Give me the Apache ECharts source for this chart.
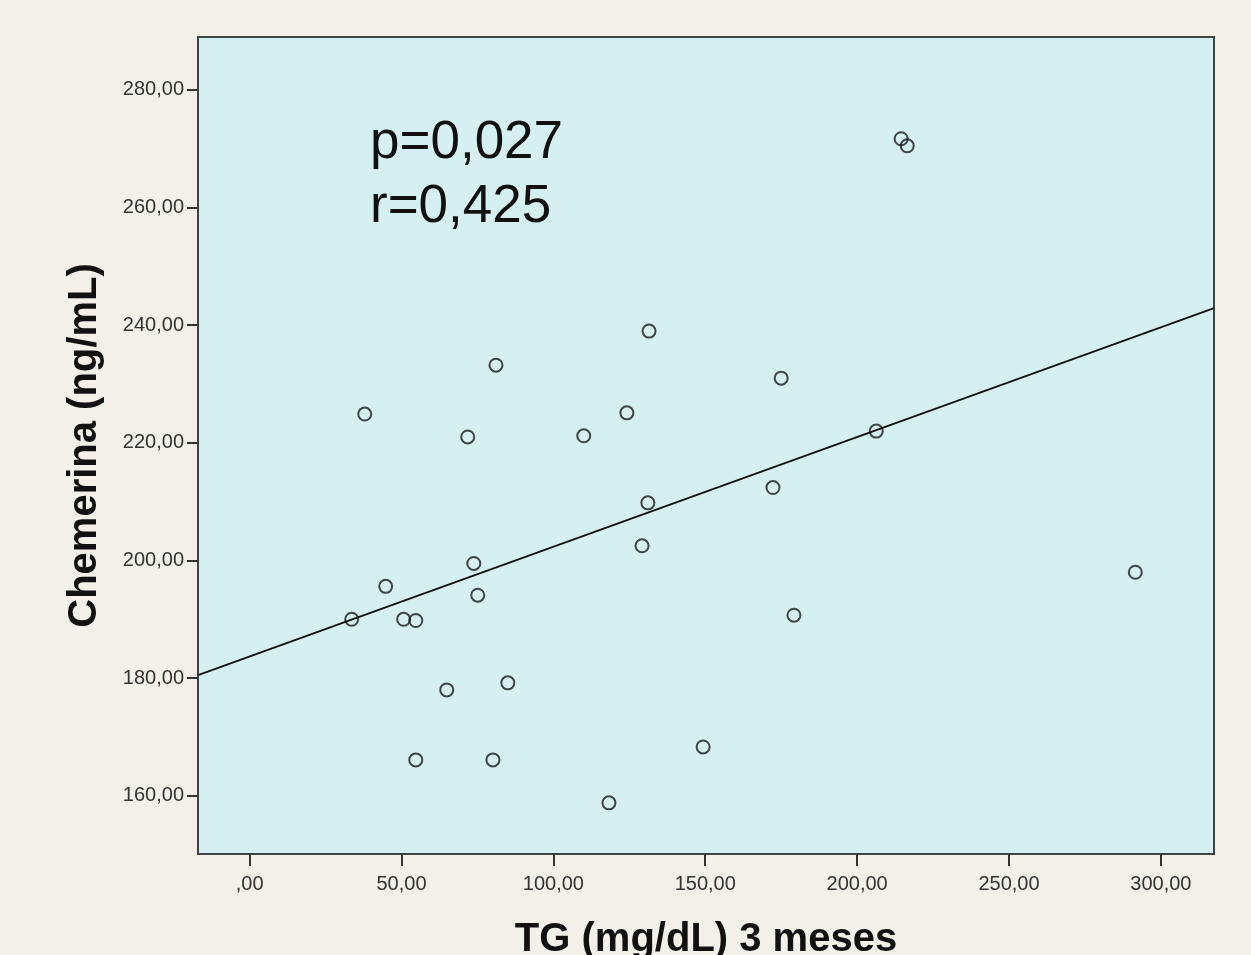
<!DOCTYPE html>
<html>
<head>
<meta charset="utf-8">
<script src="https://cdn.jsdelivr.net/npm/echarts@6/dist/echarts.min.js"></script>
<style>
  html, body { margin: 0; padding: 0; background: #f3f0e9; }
  #chart01 { width: 1251px; height: 955px; }
</style>
</head>
<body>
<div id="chart01"></div>
<script>
// valores
var tgValues = [33.6, 37.9, 44.8, 50.7, 54.7, 54.7, 64.9, 71.8, 73.8, 75.1, 80.1, 81.1, 85.0,
                110.0, 118.3, 124.2, 129.2, 131.1, 131.5, 149.3, 172.3, 175.0, 179.2, 206.3,
                214.5, 216.5, 291.6];
var chemerinaValues = [190.0, 224.9, 195.6, 190.0, 189.8, 166.1, 178.0, 221.0, 199.5, 194.1, 166.1, 233.2, 179.2,
                       221.2, 158.8, 225.1, 202.5, 209.8, 239.0, 168.3, 212.4, 231.0, 190.7, 222.0,
                       271.7, 270.5, 198.0];
var fitX = [-17, 317.5];
var fitY = [180.5, 242.9];
var xTicks = [0, 50, 100, 150, 200, 250, 300];
var yTicks = [160, 180, 200, 220, 240, 260, 280];
var statsText = ['p=0,027', 'r=0,425'];

function fmt(v) {
    var s = v.toFixed(2).replace('.', ',');
    return s.indexOf('0,') === 0 ? s.substring(1) : s;
}

var myChart01 = echarts.init(document.getElementById('chart01'));

var scatterData = tgValues.map(function (x, i) { return [x, chemerinaValues[i]]; });
var lineData = fitX.map(function (x, i) { return [x, fitY[i]]; });

var option = {
    backgroundColor: '#f3f0e9',
    animation: false,
    grid: {
        left: 198, top: 37, right: 37, bottom: 101,
        outerBoundsMode: 'none',
        containLabel: false,
        show: true,
        backgroundColor: '#d6eff0',
        borderColor: '#3f4545',
        borderWidth: 2
    },
    xAxis: {
        type: 'value',
        min: -17, max: 317.5,
        name: 'TG (mg/dL) 3 meses',
        nameLocation: 'middle',
        nameGap: 66,
        nameTextStyle: { fontFamily: 'Liberation Sans, Arial', fontWeight: 'bold', fontSize: 40, color: '#111' },
        splitLine: { show: false },
        axisLine: { show: false, onZero: false },
        axisTick: { show: true, length: 12, lineStyle: { color: '#333', width: 2 }, customValues: xTicks },
        axisLabel: { customValues: xTicks, formatter: fmt, fontFamily: 'Liberation Sans, Arial', fontSize: 20, color: '#333', margin: 20 }
    },
    yAxis: {
        type: 'value',
        min: 150.1, max: 289,
        name: 'Chemerina (ng/mL)',
        nameLocation: 'middle',
        nameGap: 93,
        nameTextStyle: { fontFamily: 'Liberation Sans, Arial', fontWeight: 'bold', fontSize: 40, color: '#111' },
        splitLine: { show: false },
        axisLine: { show: false, onZero: false },
        axisTick: { show: true, length: 11, lineStyle: { color: '#333', width: 2 }, customValues: yTicks },
        axisLabel: { customValues: yTicks, formatter: fmt, fontFamily: 'Liberation Sans, Arial', fontSize: 20, color: '#333', margin: 14 }
    },
    graphic: [
        { type: 'text', left: 370, top: 117, style: { text: statsText[0], font: '53px "Liberation Sans", Arial', fill: '#111' } },
        { type: 'text', left: 370, top: 181, style: { text: statsText[1], font: '53px "Liberation Sans", Arial', fill: '#111' } }
    ],
    series: [
        {
            type: 'line',
            data: lineData,
            symbol: 'none',
            lineStyle: { color: '#111', width: 1.8 },
            silent: true
        },
        {
            type: 'scatter',
            data: scatterData,
            symbol: 'circle',
            symbolSize: 13,
            itemStyle: { color: 'transparent', borderColor: '#1a1a1a', borderWidth: 2 }
        }
    ]
};
myChart01.setOption(option);
</script>
</body>
</html>
